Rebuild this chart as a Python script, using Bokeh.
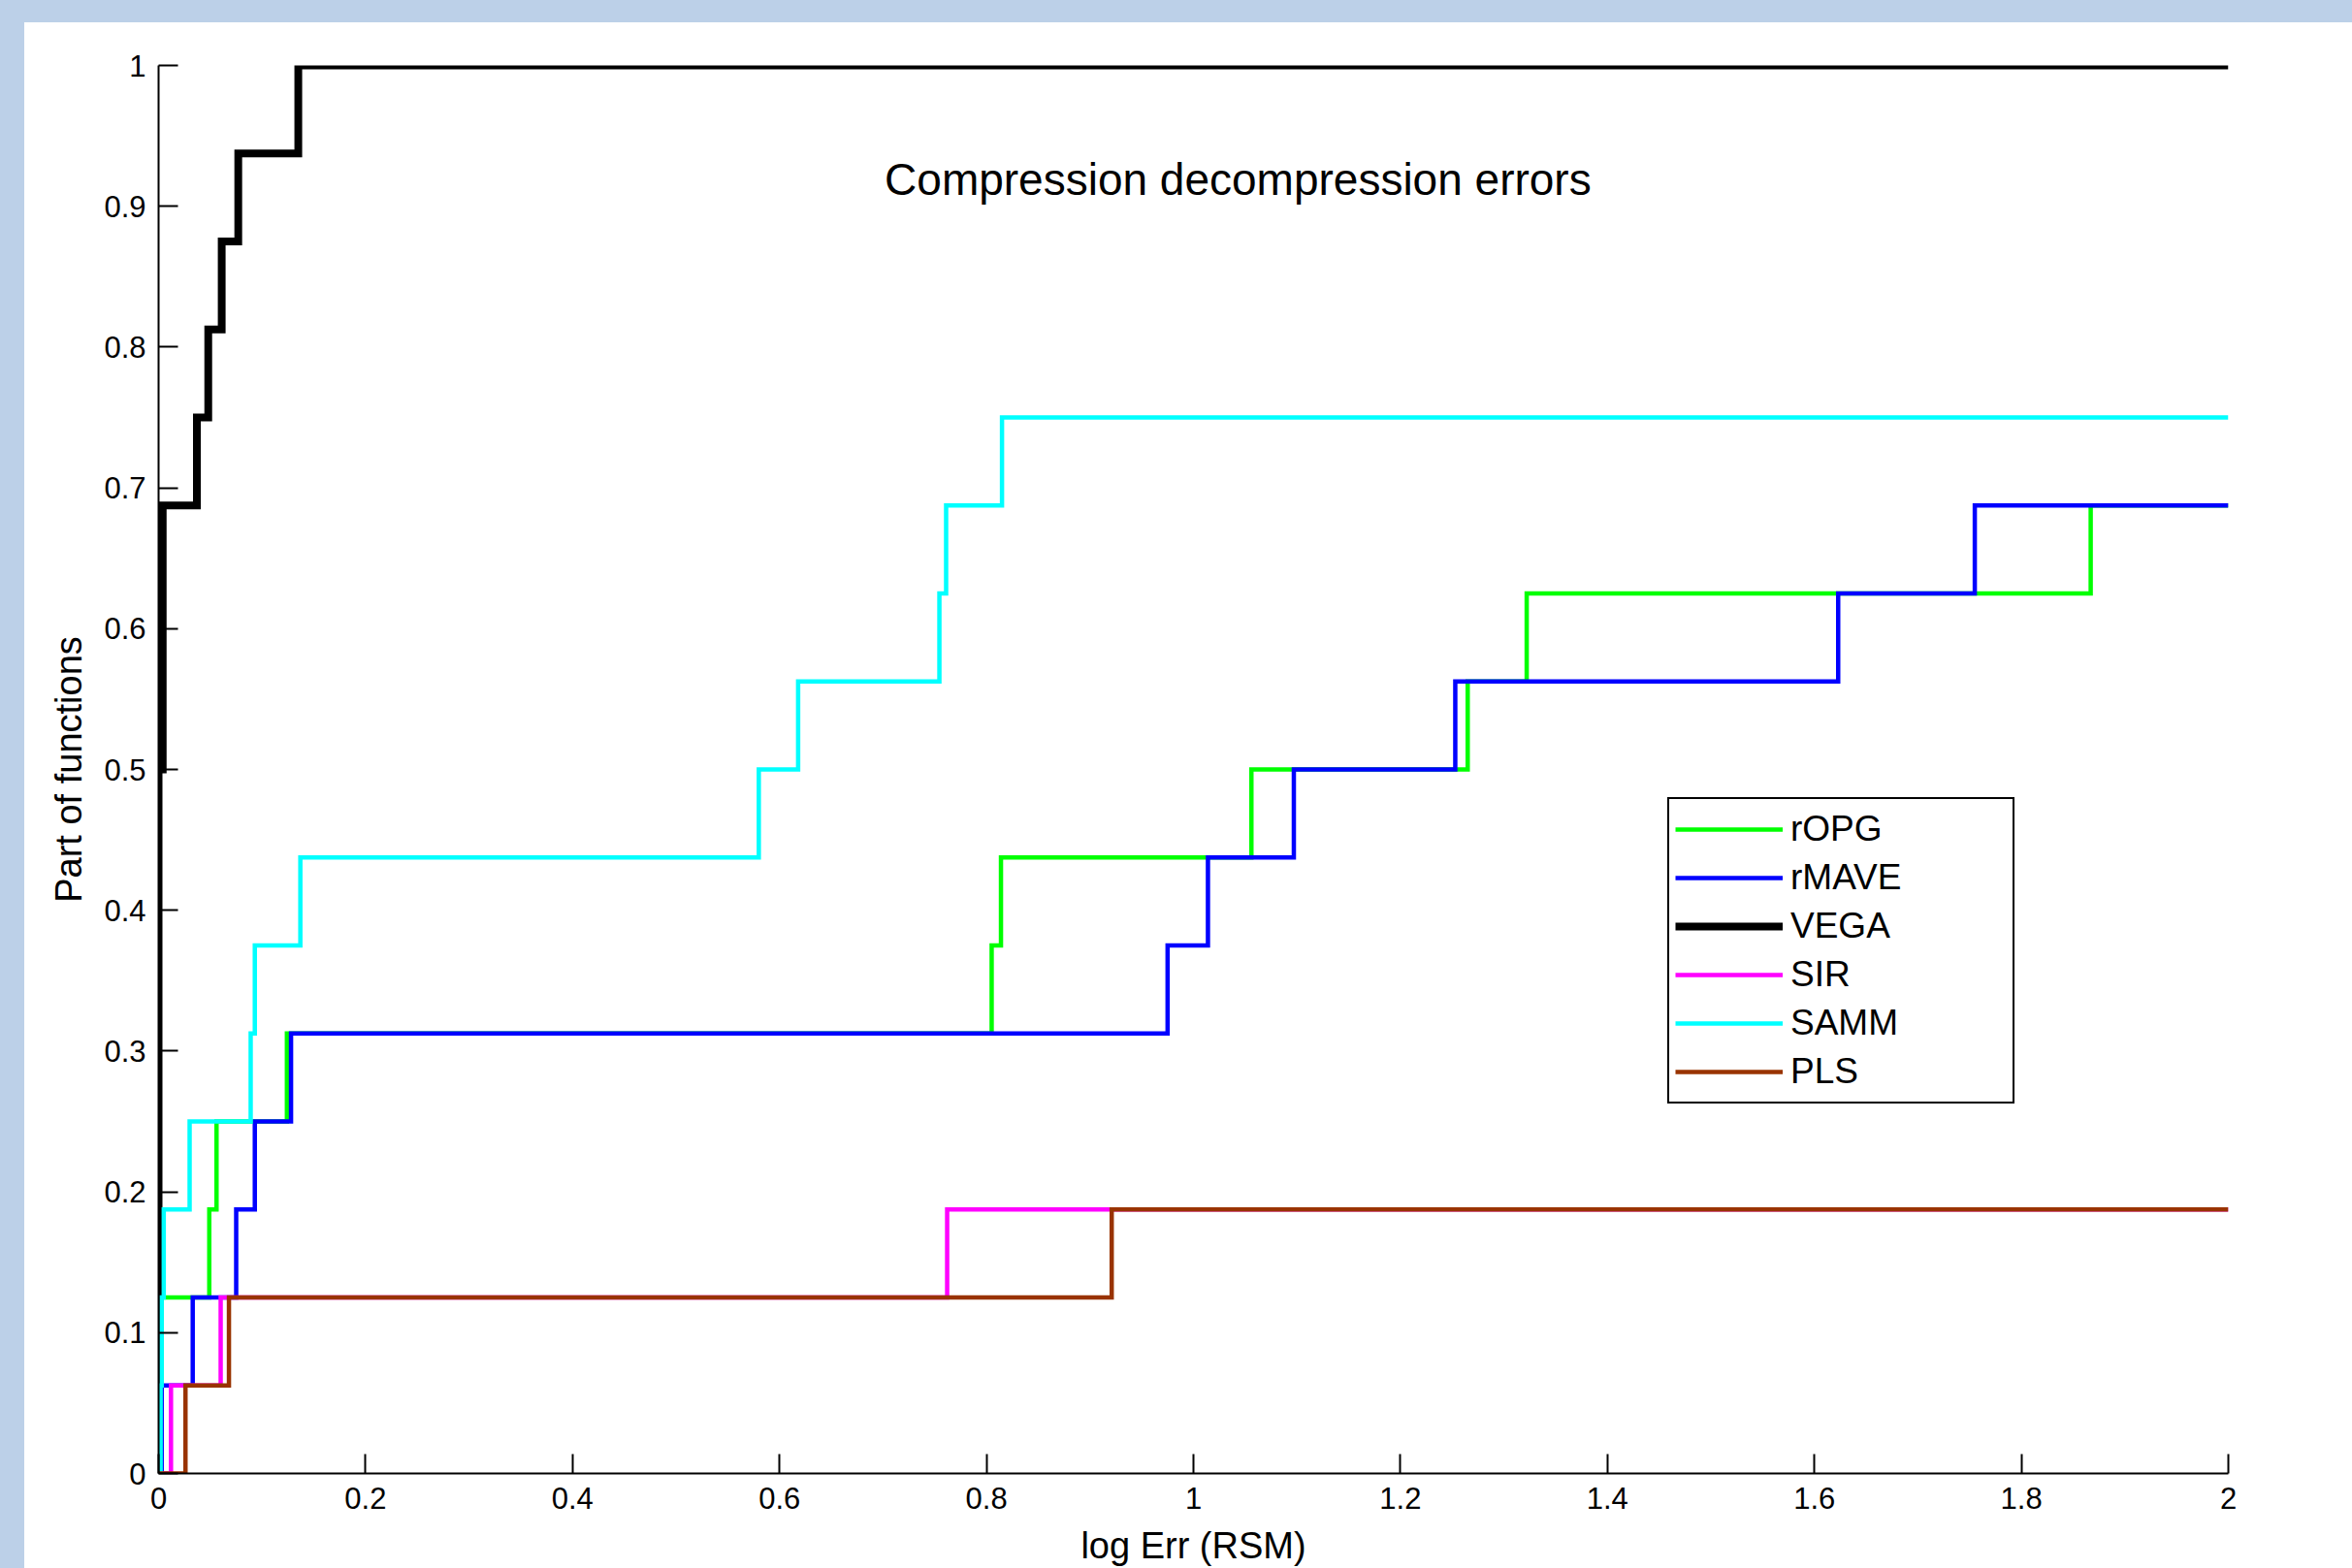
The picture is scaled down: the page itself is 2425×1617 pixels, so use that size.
from bokeh.plotting import figure
from bokeh.models import (Range1d, FixedTicker, CustomJSTickFormatter, Legend,
                          LegendItem, Label, Spacer)
from bokeh.layouts import column, row
from bokeh.embed import file_html
from bokeh.resources import INLINE

# ---------------- data ----------------
X_MAX = 2.0
x_ticks = [0, 0.2, 0.4, 0.6, 0.8, 1.0, 1.2, 1.4, 1.6, 1.8, 2.0]
y_ticks = [0, 0.1, 0.2, 0.3, 0.4, 0.5, 0.6, 0.7, 0.8, 0.9, 1.0]

ropg_x = [0.002, 0.003, 0.049, 0.056, 0.124, 0.805, 0.814, 1.056, 1.265, 1.322, 1.867]
ropg_y = [0.0625, 0.125, 0.1875, 0.25, 0.3125, 0.375, 0.4375, 0.5, 0.5625, 0.625, 0.6875]

rmave_x = [0.003, 0.033, 0.075, 0.093, 0.128, 0.975, 1.014, 1.097, 1.253, 1.623, 1.755]
rmave_y = [0.0625, 0.125, 0.1875, 0.25, 0.3125, 0.375, 0.4375, 0.5, 0.5625, 0.625, 0.6875]

vega_x = [0.0, 0.0, 0.0, 0.0, 0.0, 0.0, 0.0, 0.0, 0.004, 0.004, 0.004,
          0.037, 0.048, 0.061, 0.077, 0.135]
vega_y = [0.0625, 0.125, 0.1875, 0.25, 0.3125, 0.375, 0.4375, 0.5, 0.5625, 0.625, 0.6875,
          0.75, 0.8125, 0.875, 0.9375, 1.0]

sir_x = [0.012, 0.060, 0.762]
sir_y = [0.0625, 0.125, 0.1875]

samm_x = [0.002, 0.003, 0.005, 0.030, 0.089, 0.093, 0.137, 0.580, 0.618, 0.7545, 0.761, 0.815]
samm_y = [0.0625, 0.125, 0.1875, 0.25, 0.3125, 0.375, 0.4375, 0.5, 0.5625, 0.625, 0.6875, 0.75]

pls_x = [0.026, 0.068, 0.921]
pls_y = [0.0625, 0.125, 0.1875]

series = [
    ("rOPG", ropg_x, ropg_y, "#00FF00", 4.5),
    ("rMAVE", rmave_x, rmave_y, "#0000FF", 4.5),
    ("VEGA", vega_x, vega_y, "#000000", 8),
    ("SIR", sir_x, sir_y, "#FF00FF", 4.5),
    ("SAMM", samm_x, samm_y, "#00FFFF", 4.5),
    ("PLS", pls_x, pls_y, "#993300", 4.5),
]

title_text = "Compression decompression errors"
title_x, title_y = 1.043, 0.919
BG = "#BCD0E8"
FONT = "Liberation Sans"

# ---------------- figure ----------------
p = figure(frame_width=2134, frame_height=1452,
           x_range=Range1d(0, X_MAX), y_range=Range1d(0, 1),
           output_backend="svg", toolbar_location=None,
           min_border_left=138, min_border_right=128,
           min_border_top=44, min_border_bottom=98,
           background_fill_color="white", border_fill_color="white",
           outline_line_color=None)
p.grid.visible = False

fmt_code = "return (Math.round(tick*10)/10).toString();"
p.xaxis.ticker = FixedTicker(ticks=x_ticks)
p.yaxis.ticker = FixedTicker(ticks=y_ticks)
for ax in (p.xaxis[0], p.yaxis[0]):
    ax.formatter = CustomJSTickFormatter(code=fmt_code)
    ax.axis_line_color = "black"
    ax.axis_line_width = 2
    ax.major_tick_line_color = "black"
    ax.major_tick_line_width = 2
    ax.major_tick_in = 20
    ax.major_tick_out = 0
    ax.minor_tick_line_color = None
    ax.major_label_text_font = FONT
    ax.major_label_text_font_size = "31px"
    ax.major_label_text_color = "black"
    ax.axis_label_text_font = FONT
    ax.axis_label_text_font_size = "38px"
    ax.axis_label_text_font_style = "normal"
    ax.axis_label_text_color = "black"

p.xaxis.axis_label = "log Err (RSM)"
p.yaxis.axis_label = "Part of functions"
p.xaxis.major_label_standoff = 14
p.yaxis.major_label_standoff = 13
p.xaxis.axis_label_standoff = 14
p.yaxis.axis_label_standoff = 12

items = []
for name, xs, ys, color, lw in series:
    sx = [0.0] + list(xs) + [X_MAX]
    sy = [0.0] + list(ys) + [ys[-1]]
    r = p.step(x=sx, y=sy, mode="after", line_color=color, line_width=lw,
               line_join="miter")
    items.append(LegendItem(label=name, renderers=[r]))

legend = Legend(items=items, location=(1556, 381), margin=0, padding=6, spacing=0,
                glyph_width=111, glyph_height=50, label_height=50, label_width=223,
                label_standoff=8, label_text_font=FONT, label_text_font_size="37px",
                label_text_color="black", border_line_color="black",
                border_line_width=2, border_line_alpha=1.0,
                background_fill_color="white", background_fill_alpha=1.0)
p.add_layout(legend, "center")

p.add_layout(Label(x=title_x, y=title_y, text=title_text, text_align="center",
                   text_baseline="alphabetic", text_font=FONT,
                   text_font_size="46px", text_color="black"))

top_band = Spacer(width=2425, height=23, styles={"background-color": BG})
left_band = Spacer(width=25, height=1594, styles={"background-color": BG})
page = column(top_band, row(left_band, p, spacing=0), spacing=0)

open("out.html", "w").write(file_html(page, INLINE))
